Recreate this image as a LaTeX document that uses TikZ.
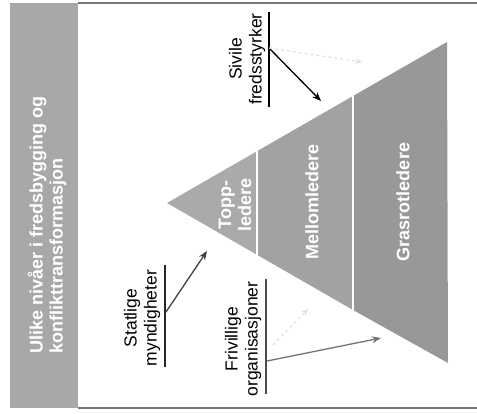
\documentclass[tikz,border=0pt]{standalone}
\usepackage{fontspec}
\setmainfont{Liberation Sans}
\usetikzlibrary{arrows.meta}
\definecolor{bargray}{RGB}{168,168,168}
\definecolor{topgray}{RGB}{170,170,170}
\definecolor{midgray}{RGB}{162,162,162}
\definecolor{lowgray}{RGB}{152,152,152}
\definecolor{framegray}{RGB}{120,120,120}
\tikzset{
  whitelabel/.style={text=white, font=\bfseries\fontsize{18}{20}\selectfont, rotate=90, align=center, inner sep=0pt},
  blacklabel/.style={text=black, font=\fontsize{17.5}{20}\selectfont, rotate=90, align=center, inner sep=0pt},
  uline/.style={line width=1.4pt},
  pointer/.style={line width=1.3pt, -{Stealth[length=9pt,width=7pt]}},
  ghost/.style={line width=1.2pt, black!12, dashed, -{Stealth[length=7pt,width=6pt]}},
  divider/.style={white, line width=2pt}
}
\begin{document}
\begin{tikzpicture}[x=1pt,y=-1pt]
\useasboundingbox (0,0) rectangle (477,413);
% frame
\fill[bargray] (10,3) rectangle (78,408);
\draw[framegray, line width=1.4pt] (78,3) -- (477,3);
\draw[framegray, line width=1.4pt] (78,408) -- (477,408);
\node[whitelabel, align=left] (title) at (47,225) {Ulike nivåer i fredsbygging og\\konflikttransformasjon};
% pyramid
\coordinate (apex) at (167,203);
\coordinate (tr) at (447,42);
\coordinate (br) at (448,363);
\fill[topgray] (apex) -- (257,151.2) -- (257,254.8) -- cycle;
\fill[midgray] (257,151.2) -- (353,96) -- (353,310) -- (257,254.8) -- cycle;
\fill[lowgray] (353,96) -- (tr) -- (br) -- (353,310) -- cycle;
\draw[divider] (257,150) -- (257,256);
\draw[divider] (353,95) -- (353,311);
\node[whitelabel] (topp) at (235,205) {Topp-\\ledere};
\node[whitelabel] (mellom) at (312,202) {Mellomledere};
\node[whitelabel] (grasrot) at (403,202) {Grasrotledere};
% Sivile fredsstyrker
\node[blacklabel] (sivile) at (247,59) {Sivile\\fredsstyrker};
\coordinate (s1) at (269,12);
\coordinate (s2) at (269,107);
\draw[uline] (s1) -- (s2);
\coordinate (sa) at (269,48);
\coordinate (sb) at (321,101);
\draw[pointer, black] (sa) -- (sb);
\coordinate (sg) at (362,62);
\draw[ghost] (sa) -- (sg);
% Statlige myndigheter
\node[blacklabel] (statlige) at (142,318) {Statlige\\myndigheter};
\coordinate (m1) at (165,265);
\coordinate (m2) at (165,367);
\draw[uline, black!85] (m1) -- (m2);
\coordinate (ma) at (166,312);
\coordinate (mb) at (207,251);
\draw[pointer, black!75] (ma) -- (mb);
% Frivillige organisasjoner
\node[blacklabel] (frivillige) at (243,339) {Frivillige\\organisasjoner};
\coordinate (f1) at (266,279);
\coordinate (f2) at (266,394);
\draw[uline, black!70] (f1) -- (f2);
\coordinate (fa) at (267,361);
\coordinate (fb) at (381,338);
\draw[pointer, black!55] (fa) -- (fb);
\coordinate (fg1) at (273,345);
\coordinate (fg2) at (308,309);
\draw[ghost] (fg1) -- (fg2);
\end{tikzpicture}
\end{document}
